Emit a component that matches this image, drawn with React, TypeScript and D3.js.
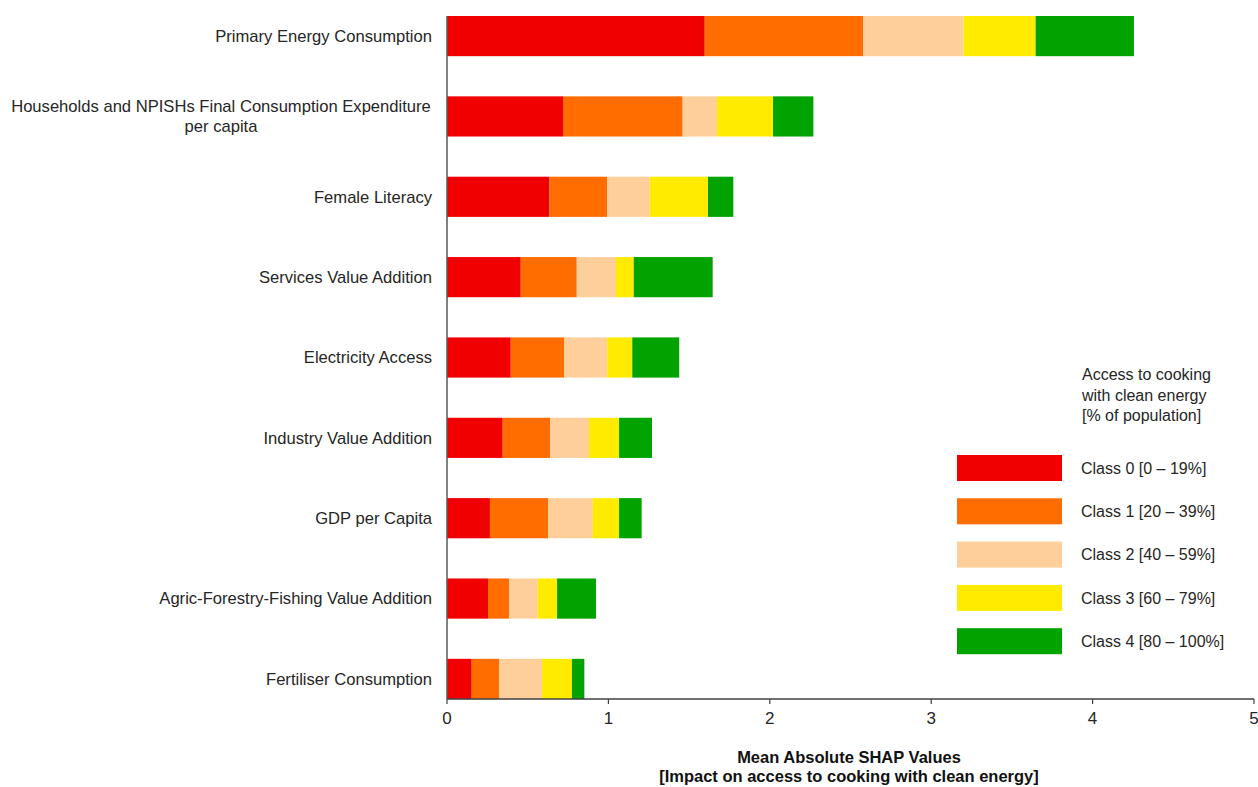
import React from "react";
import * as d3 from "d3";

const categories = [
  "Primary Energy Consumption",
  "Households and NPISHs Final Consumption Expenditure|per capita",
  "Female Literacy",
  "Services Value Addition",
  "Electricity Access",
  "Industry Value Addition",
  "GDP per Capita",
  "Agric-Forestry-Fishing Value Addition",
  "Fertiliser Consumption",
];

const class0 = [1.597, 0.719, 0.634, 0.457, 0.395, 0.345, 0.266, 0.254, 0.153];
const class1 = [0.982, 0.741, 0.359, 0.347, 0.33, 0.295, 0.36, 0.13, 0.169];
const class2 = [0.622, 0.213, 0.263, 0.243, 0.268, 0.24, 0.277, 0.178, 0.267];
const class3 = [0.446, 0.347, 0.361, 0.11, 0.155, 0.186, 0.163, 0.12, 0.185];
const class4 = [0.609, 0.25, 0.157, 0.489, 0.291, 0.204, 0.14, 0.241, 0.077];

const seriesNames = [
  "Class 0 [0 – 19%]",
  "Class 1 [20 – 39%]",
  "Class 2 [40 – 59%]",
  "Class 3 [60 – 79%]",
  "Class 4 [80 – 100%]",
];
const seriesColors = ["#F00000", "#FF6D00", "#FFCF9B", "#FFEB00", "#00A300"];
const xTicks = [0, 1, 2, 3, 4, 5];
const legendTitle = ["Access to cooking", "with clean energy", "[% of population]"];
const axisTitle = ["Mean Absolute SHAP Values", "[Impact on access to cooking with clean energy]"];

export default function App() {
  const W = 1258;
  const H = 787;
  const x0 = 447;
  const x1 = 1254;
  const yTop = 16;
  const yBot = 699;

  const x = d3.scaleLinear().domain([0, 5]).range([x0, x1]);
  const y = d3
    .scaleBand<string>()
    .domain(categories)
    .range([yTop, yBot])
    .paddingInner(0.5)
    .paddingOuter(0);

  const allSeries = [class0, class1, class2, class3, class4];
  const table = categories.map((c, i) => {
    const row: any = { cat: c };
    allSeries.forEach((s, k) => (row["s" + k] = s[i]));
    return row;
  });
  const stack = d3.stack<any>().keys(["s0", "s1", "s2", "s3", "s4"]);
  const stacked = stack(table);

  const labelFont = "'Liberation Sans', Arial, sans-serif";

  return (
    <svg
      width={W}
      height={H}
      style={{ position: "absolute", left: 0, top: 0, background: "#fff" }}
    >
      {stacked.map((layer, k) => (
        <g key={k} fill={seriesColors[k]}>
          {layer.map((d, i) => (
            <rect
              key={i}
              x={x(d[0])}
              y={y(categories[i])}
              width={x(d[1]) - x(d[0])}
              height={y.bandwidth()}
            />
          ))}
        </g>
      ))}

      {/* y axis line */}
      <line x1={x0} x2={x0} y1={yTop} y2={yBot} stroke="#595959" strokeWidth={1.5} />
      {/* x axis */}
      <line x1={x0} x2={x1} y1={yBot} y2={yBot} stroke="#404040" strokeWidth={1.5} />
      {xTicks.map((t) => (
        <g key={t}>
          <line x1={x(t)} x2={x(t)} y1={yBot} y2={yBot + 5} stroke="#404040" strokeWidth={1.2} />
          <text
            x={x(t)}
            y={yBot + 25}
            textAnchor="middle"
            fontFamily={labelFont}
            fontSize={17}
            fill="#262626"
          >
            {t}
          </text>
        </g>
      ))}

      {/* category labels */}
      {categories.map((c) => {
        const lines = c.split("|");
        const cy = (y(c) as number) + y.bandwidth() / 2;
        if (lines.length === 1) {
          return (
            <text
              key={c}
              x={432}
              y={cy}
              dy="0.35em"
              textAnchor="end"
              fontFamily={labelFont}
              fontSize={16.6}
              fill="#262626"
            >
              {c}
            </text>
          );
        }
        return (
          <text
            key={c}
            x={221}
            y={cy - 10}
            textAnchor="middle"
            fontFamily={labelFont}
            fontSize={16.6}
            fill="#262626"
          >
            {lines.map((l, j) => (
              <tspan key={j} x={221} dy={j === 0 ? "0.35em" : 20}>
                {l}
              </tspan>
            ))}
          </text>
        );
      })}

      {/* axis title */}
      {axisTitle.map((t, j) => (
        <text
          key={j}
          x={849}
          y={763 + j * 19}
          textAnchor="middle"
          fontFamily={labelFont}
          fontWeight="bold"
          fontSize={16.5}
          fill="#111"
        >
          {t}
        </text>
      ))}

      {/* legend */}
      {legendTitle.map((t, j) => (
        <text
          key={j}
          x={1082}
          y={380 + j * 20.5}
          fontFamily={labelFont}
          fontSize={16}
          fill="#262626"
        >
          {t}
        </text>
      ))}
      {seriesNames.map((n, k) => (
        <g key={n}>
          <rect x={957} y={455 + k * 43.3} width={105} height={26} fill={seriesColors[k]} />
          <text
            x={1081}
            y={455 + k * 43.3 + 13}
            dy="0.35em"
            fontFamily={labelFont}
            fontSize={16}
            fill="#262626"
          >
            {n}
          </text>
        </g>
      ))}
    </svg>
  );
}
